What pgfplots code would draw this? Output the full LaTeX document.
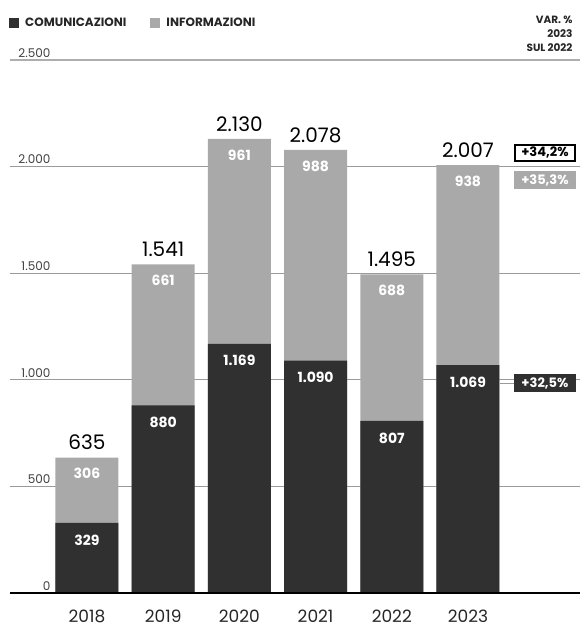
\documentclass[border=0pt]{standalone}
\usepackage{fontspec}
\setmainfont{Poppins}
\usepackage{pgfplots}
\usepackage{pgfplotstable}
\pgfplotsset{compat=1.18}
\definecolor{dark}{HTML}{303030}
\definecolor{light}{HTML}{A9A9A9}
\definecolor{gridc}{HTML}{9A9A9A}

% comunicazioni, informazioni, totale
\pgfplotstableread{
x com inf comlab inflab totlab
0 329 306 329 306 635
1 880 661 880 661 1.541
2 1169 961 1.169 961 2.130
3 1090 988 1.090 988 2.078
4 807 688 807 688 1.495
5 1069 938 1.069 938 2.007
}\datatab

\begin{document}
\begin{tikzpicture}
\begin{axis}[
  scale only axis, width=570pt, height=533pt,
  xmin=-1.01, xmax=6.47, ymin=0, ymax=2500,
  ybar, bar width=63pt, bar shift=0pt,
  axis line style={draw=none},
  tick style={draw=none},
  ymajorgrids, grid style={gridc, line width=0.8pt},
  ytick={0,500,1000,1500,2000,2500},
  yticklabels={0,500,1.000,1.500,2.000,2.500},
  yticklabel style={anchor=south east, xshift=44pt, yshift=-1pt, text=black!75, font=\fontsize{12}{12}\selectfont},
  xtick={0,1,2,3,4,5},
  xticklabels={2018,2019,2020,2021,2022,2023},
  xticklabel style={inner sep=0pt, yshift=-13pt, text=black!85, font=\fontsize{17}{17}\selectfont},
  clip=false,
  legend columns=2, reverse legend,
  legend style={draw=none, fill=none, at={(rel axis cs:0,1)}, anchor=south west, xshift=-4pt, yshift=28pt,
    font=\bfseries\fontsize{12}{12}\selectfont, text=black!85,
    /tikz/every odd column/.append style={column sep=4pt},
    /tikz/every even column/.append style={column sep=22pt}},
]
% informazioni: stacked on top of comunicazioni (bar reaches the total)
\addplot[fill=light, draw=none,
  legend image code/.code={\fill[light] (0pt,-5pt) rectangle (10pt,5pt);},
  nodes near coords, point meta=explicit symbolic,
  every node near coord/.append style={anchor=center, yshift=-16pt, text=white, font=\bfseries\fontsize{14}{14}\selectfont}]
  table[x=x, y expr=\thisrow{com}+\thisrow{inf}, meta=inflab] {\datatab};
\addlegendentry{INFORMAZIONI}
% comunicazioni
\addplot[fill=dark, draw=none,
  legend image code/.code={\fill[dark] (0pt,-5pt) rectangle (10pt,5pt);},
  nodes near coords, point meta=explicit symbolic,
  every node near coord/.append style={anchor=center, yshift=-17pt, text=white, font=\bfseries\fontsize{14}{14}\selectfont}]
  table[x=x, y=com, meta=comlab] {\datatab};
\addlegendentry{COMUNICAZIONI}
% totals
\addplot[draw=none, fill=none, forget plot,
  nodes near coords, point meta=explicit symbolic,
  every node near coord/.append style={anchor=center, yshift=15pt, text=black, font=\fontsize{20}{20}\selectfont}]
  table[x=x, y expr=\thisrow{com}+\thisrow{inf}, meta=totlab] {\datatab};

\draw[black, line width=2pt] (rel axis cs:0,0) -- (rel axis cs:1,0);
\draw[gridc!80, line width=2.5pt] (rel axis cs:0,1) -- (rel axis cs:1,1);
\node[anchor=south east, align=right, text=black!85, font=\bfseries\fontsize{10.5}{14}\selectfont]
  at ([xshift=-4pt, yshift=5pt]rel axis cs:1,1) {VAR. \%\\2023\\SUL 2022};

\draw[gridc, line width=0.8pt] (axis cs:5.415,985) -- (axis cs:5.62,985);
\node[draw=black, line width=1.6pt, fill=white, text=black, inner sep=2.5pt, minimum width=60pt,
  font=\bfseries\fontsize{13}{13}\selectfont] at (axis cs:6.01,2064) {+34,2\%};
\node[fill=light, text=white, inner sep=3pt, minimum width=62pt,
  font=\bfseries\fontsize{13}{13}\selectfont] at (axis cs:6.01,1937) {+35,3\%};
\node[fill=dark, text=white, inner sep=3pt, minimum width=62pt,
  font=\bfseries\fontsize{13}{13}\selectfont] at (axis cs:6.01,985) {+32,5\%};
\end{axis}
\pgfresetboundingbox
\path[use as bounding box] (-10pt,-38pt) rectangle (571pt,593pt);
\end{tikzpicture}
\end{document}
